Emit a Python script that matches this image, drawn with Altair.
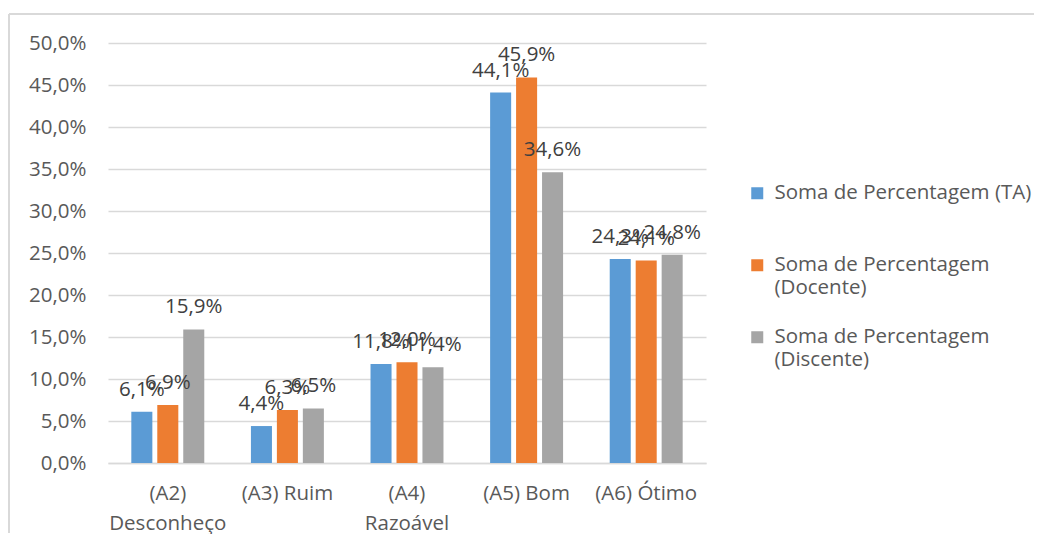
import altair as alt
import pandas as pd

categories = ["(A2)|Desconheço", "(A3) Ruim", "(A4)|Razoável", "(A5) Bom", "(A6) Ótimo"]
series = ["Soma de Percentagem (TA)| ", "Soma de Percentagem|(Docente)", "Soma de Percentagem|(Discente)"]
ta = [6.1, 4.4, 11.8, 44.1, 24.3]
docente = [6.9, 6.3, 12.0, 45.9, 24.1]
discente = [15.9, 6.5, 11.4, 34.6, 24.8]
colors = ["#5B9BD5", "#ED7D31", "#A5A5A5"]

rows = []
for s, vals in zip(series, [ta, docente, discente]):
    for c, v in zip(categories, vals):
        rows.append({"cat": c, "serie": s, "val": v,
                     "lab": f"{v:.1f}".replace(".", ",") + "%"})
df = pd.DataFrame(rows)

FONT = "Open Sans"
FS = 20.5
W, H = 598, 420

x = alt.X("cat:N", sort=categories,
          scale=alt.Scale(paddingInner=0.39, paddingOuter=0.195),
          axis=alt.Axis(title=None, labelAngle=0, ticks=False, domain=True,
                        domainColor="#D9D9D9", domainWidth=1.5,
                        labelExpr="split(datum.label, '|')",
                        labelFont=FONT, labelFontSize=FS, labelColor="#595959",
                        labelPadding=20, labelLineHeight=30, labelBaseline="top"))
xo = alt.XOffset("serie:N", sort=series, scale=alt.Scale(paddingInner=0.19, paddingOuter=0))
y = alt.Y("val:Q", scale=alt.Scale(domain=[0, 50]),
          axis=alt.Axis(title=None, values=list(range(0, 51, 5)), ticks=False, domain=False,
                        gridColor="#D9D9D9", gridWidth=1.5,
                        labelExpr="replace(format(datum.value, '.1f'), '.', ',') + '%'",
                        labelFont=FONT, labelFontSize=FS, labelColor="#595959",
                        labelPadding=22))

bars = alt.Chart(df).mark_bar().encode(
    x=x, xOffset=xo, y=y,
    color=alt.Color("serie:N", sort=series, scale=alt.Scale(domain=series, range=colors),
                    legend=alt.Legend(title=None, orient="none", legendX=639, legendY=140,
                                      symbolType="square", symbolSize=144, symbolStrokeWidth=0,
                                      labelExpr="split(datum.label, '|')",
                                      labelFont=FONT, labelFontSize=FS, labelColor="#595959",
                                      labelLimit=400, labelOffset=7, rowPadding=28))
)

labels = alt.Chart(df).mark_text(font=FONT, fontSize=FS, color="#404040",
                                 baseline="bottom", dy=-12).encode(
    x=alt.X("cat:N", sort=categories), xOffset=alt.XOffset("serie:N", sort=series),
    y="val:Q", text="lab:N")

frame_top = alt.Chart(df).mark_rule(color="#D9D9D9", strokeWidth=1.5).encode(
    x=alt.value(-99), x2=alt.value(926), y=alt.value(-29))
frame_left = alt.Chart(df).mark_rule(color="#D9D9D9", strokeWidth=1.5).encode(
    x=alt.value(-99), y=alt.value(-29), y2=alt.value(490))

chart = alt.layer(frame_top, frame_left, bars, labels).properties(
    width=W, height=H, padding={"left": 0, "top": 5, "right": 0, "bottom": 0},
    background="white"
).configure_view(stroke=None)

chart.save("out.html", embed_options={"renderer": "svg", "actions": False})
